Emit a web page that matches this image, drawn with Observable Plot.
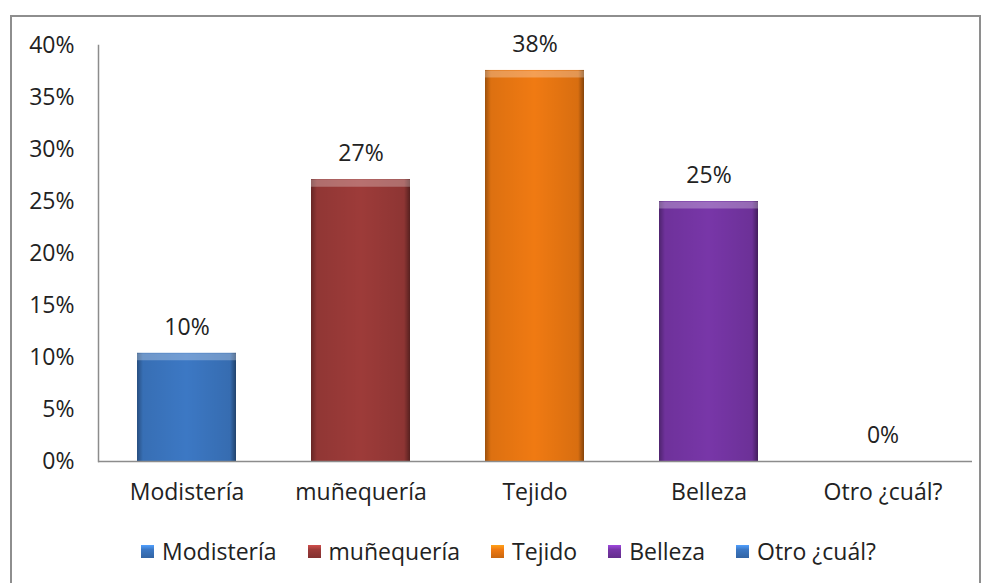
<!DOCTYPE html>
<html><head><meta charset="utf-8">
<script src="https://cdn.jsdelivr.net/npm/d3@7"></script>
<script src="https://cdn.jsdelivr.net/npm/@observablehq/plot@0.6"></script>
<style>
body{margin:0;background:#fff;font-family:"Open Sans",sans-serif;}
#frame{position:absolute;left:10px;top:15px;width:967px;height:600px;border:2px solid #8e8e8e;}
#chart{position:absolute;left:0;top:0;}
#legend{position:absolute;top:535px;left:0;width:1017px;display:flex;justify-content:center;gap:31px;font-size:23px;color:#222;}
#legend span.item{display:flex;align-items:center;gap:8px;}
#legend span.sw{display:inline-block;width:13px;height:13px;box-sizing:border-box;}
</style></head>
<body>
<div id="frame"></div>
<div id="chart"></div>
<div id="legend"></div>
<script>
const categories = ["Modistería","muñequería","Tejido","Belleza","Otro ¿cuál?"];
const values = [0.104, 0.271, 0.376, 0.25, 0];
const colors = ["#3c78c4","#9d3b39","#f07a12","#7836a8","#3c78c4"];
const yTicks = [0,0.05,0.1,0.15,0.2,0.25,0.3,0.35,0.4];

const data = categories.map((c,i)=>({cat:c, v:values[i]}));
const fmt = d3.format(".0%");
const font = "Open Sans, sans-serif";

const plot = Plot.plot({
  width: 986, height: 520,
  marginLeft: 98, marginRight: 14, marginTop: 45, marginBottom: 59,
  style: {fontFamily: font, fontSize: "23px", color: "#222", background: "transparent"},
  x: {domain: categories, paddingInner: 0.43, paddingOuter: 0.215, label: null, tickSize: 0, tickPadding: 22},
  y: {domain: [0, 0.4], ticks: yTicks, tickFormat: fmt, label: null, tickSize: 0, tickPadding: 24},
  color: {domain: categories, range: colors},
  marks: [
    Plot.barY(data.filter(d=>d.v>0), {x:"cat", y:"v", fill:"cat", style:"filter: drop-shadow(2px 2px 2px rgba(0,0,0,0.3))"}),
    Plot.barY(data.filter(d=>d.v>0), {x:"cat", y:"v", fill:"url(#bevelH)"}),
    Plot.tickY(data.filter(d=>d.v>0), {x:"cat", y:"v", stroke:"white", strokeOpacity:0.28, strokeWidth:7, dy:3.5, inset:0}),
    Plot.ruleY([0], {stroke:"#8c8c8c", strokeWidth:1.5}),
    Plot.axisY({ticks: yTicks, tickFormat: fmt, tickSize:0, tickPadding:24, fontSize:23, label:null}),
    Plot.axisX({tickSize:0, tickPadding:22, fontSize:23, label:null}),
    Plot.frame({anchor:"left", stroke:"#8c8c8c", strokeWidth:1.5}),
    Plot.text(data, {x:"cat", y:"v", text: d=>fmt(d.v), dy:-26, fontSize:23, fill:"#222"})
  ]
});
document.getElementById("chart").appendChild(plot);

// bevel gradient defs
const svg = d3.select(plot);
const defs = svg.insert("defs", ":first-child");
const g = defs.append("linearGradient").attr("id","bevelH").attr("x1",0).attr("x2",1).attr("y1",0).attr("y2",0);
[[0,0.35],[0.06,0.08],[0.5,0],[0.94,0.1],[1,0.45]].forEach(([o,a])=>{
  g.append("stop").attr("offset",o).attr("stop-color","#000").attr("stop-opacity",a);
});

// legend
const leg = d3.select("#legend");
categories.forEach((c,i)=>{
  const it = leg.append("span").attr("class","item");
  it.append("span").attr("class","sw")
    .style("background", `linear-gradient(to bottom, ${d3.color(colors[i]).brighter(0.8)} 0%, ${colors[i]} 35%, ${d3.color(colors[i]).darker(0.5)} 100%)`);
  it.append("span").text(c);
});
</script>
</body></html>
